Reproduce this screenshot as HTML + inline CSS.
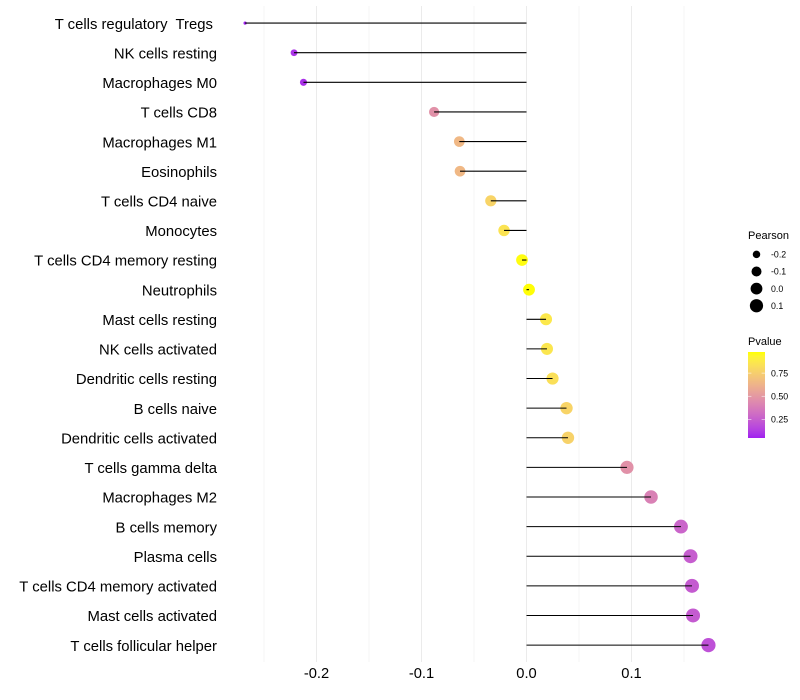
<!DOCTYPE html>
<html>
<head>
<meta charset="utf-8">
<title>Lollipop chart</title>
<style>
html,body{margin:0;padding:0;background:#fff;width:800px;height:700px;overflow:hidden}
svg{display:block}
text{font-family:"Liberation Sans",Arial,sans-serif;white-space:pre}
</style>
</head>
<body>
<svg id="chart" xmlns="http://www.w3.org/2000/svg" width="800" height="700" viewBox="0 0 800 700"></svg>
<script>
const categories = ["T cells regulatory  Tregs ","NK cells resting","Macrophages M0","T cells CD8","Macrophages M1","Eosinophils","T cells CD4 naive","Monocytes","T cells CD4 memory resting","Neutrophils","Mast cells resting","NK cells activated","Dendritic cells resting","B cells naive","Dendritic cells activated","T cells gamma delta","Macrophages M2","B cells memory","Plasma cells","T cells CD4 memory activated","Mast cells activated","T cells follicular helper"];
const pearson = [-0.268,-0.2214,-0.2124,-0.088,-0.064,-0.0633,-0.034,-0.0214,-0.0043,0.0024,0.0186,0.0195,0.0248,0.0381,0.0395,0.0957,0.1186,0.1471,0.1562,0.1576,0.1586,0.1733];
const pvalue = [0.05,0.1,0.09,0.47,0.65,0.65,0.78,0.85,0.97,0.975,0.87,0.86,0.83,0.78,0.77,0.47,0.40,0.28,0.25,0.24,0.24,0.2];
const xTicks = [-0.2,-0.1,0,0.1];
const xTickLabels = ["-0.2","-0.1","0.0","0.1"];
const xMinorTicks = [-0.25,-0.15,-0.05,0.05,0.15];
const sizeLegendValues = [-0.2,-0.1,0,0.1];
const sizeLegendLabels = ["-0.2","-0.1","0.0","0.1"];
const colorLegendValues = [0.25,0.5,0.75];
const colorLegendLabels = ["0.25","0.50","0.75"];

const svg = document.getElementById('chart');
const NS = 'http://www.w3.org/2000/svg';
function mk(tag, attrs, parent){
  const e = document.createElementNS(NS, tag);
  for (const k in attrs) e.setAttribute(k, attrs[k]);
  (parent || svg).appendChild(e);
  return e;
}
/* axis functions */
const xScale = v => 526.5 + v * 1050;
const yScale = i => 23.08 + i * (645.1 - 23.08) / (categories.length - 1);
const sizeMin = Math.min(...pearson), sizeMax = Math.max(...pearson);
const radius = v => (3.2 + 11 * Math.sqrt(Math.max(0, (v - sizeMin) / (sizeMax - sizeMin)))) / 2;

/* colour scale: Lab interpolation between purple and yellow */
const pLow = 0.05, pHigh = 0.978;
function toLab(r,g,b){
  const f = c => { c/=255; return c<=0.04045 ? c/12.92 : Math.pow((c+0.055)/1.055,2.4); };
  const R=f(r),G=f(g),B=f(b);
  const X=(0.4124*R+0.3576*G+0.1805*B)/0.95047, Y=0.2126*R+0.7152*G+0.0722*B, Z=(0.0193*R+0.1192*G+0.9505*B)/1.08883;
  const h = t => t>0.008856 ? Math.cbrt(t) : 7.787*t+16/116;
  return [116*h(Y)-16, 500*(h(X)-h(Y)), 200*(h(Y)-h(Z))];
}
function fromLab(L,a,b){
  const fy=(L+16)/116, fx=fy+a/500, fz=fy-b/200;
  const h = t => t*t*t>0.008856 ? t*t*t : (t-16/116)/7.787;
  const X=h(fx)*0.95047, Y=h(fy), Z=h(fz)*1.08883;
  const g = c => { c = c<=0.0031308 ? 12.92*c : 1.055*Math.pow(c,1/2.4)-0.055; return Math.round(255*Math.min(1,Math.max(0,c))); };
  return 'rgb('+g(3.2406*X-1.5372*Y-0.4986*Z)+','+g(-0.9689*X+1.8758*Y+0.0415*Z)+','+g(0.0557*X-0.204*Y+1.057*Z)+')';
}
const labLow = toLab(160,32,240), labHigh = toLab(255,255,0);
function colorScale(p){
  const t = Math.max(0, Math.min(1, (p - pLow) / (pHigh - pLow)));
  return fromLab(labLow[0]+(labHigh[0]-labLow[0])*t, labLow[1]+(labHigh[1]-labLow[1])*t, labLow[2]+(labHigh[2]-labLow[2])*t);
}

/* gridlines */
const panelTop = 6, panelBottom = 662;
xMinorTicks.forEach(v => {
  const g = mk('line', {x1:xScale(v), x2:xScale(v), y1:panelTop, y2:panelBottom, stroke:'#f0f0f0', 'stroke-width':0.6});
  
  
});
xTicks.forEach(v => {
  const g = mk('line', {x1:xScale(v), x2:xScale(v), y1:panelTop, y2:panelBottom, stroke:'#ebebeb', 'stroke-width':1});
  
  
});

/* points then segments */
categories.forEach((c, i) => {
  const pt = mk('circle', {cx:xScale(pearson[i]), cy:yScale(i), r:radius(pearson[i]), fill:colorScale(pvalue[i])});
  
  
});
categories.forEach((c, i) => {
  const ln = mk('line', {x1:xScale(0), x2:xScale(pearson[i]), y1:yScale(i), y2:yScale(i), stroke:'#000', 'stroke-width':1.07});
  
  
});

/* y labels */
categories.forEach((c, i) => {
  const t = mk('text', {x:217, y:yScale(i)+5.7, 'text-anchor':'end', 'font-size':14.85, fill:'#000'});
  t.setAttribute('xml:space', 'preserve');
  t.textContent = c;
  
  
});
/* x labels */
xTicks.forEach((v, i) => {
  const t = mk('text', {x:xScale(v), y:678, 'text-anchor':'middle', 'font-size':14.7, fill:'#000'});
  t.textContent = xTickLabels[i];
  
  
});

/* size legend */
const sizeTitle = mk('text', {x:748, y:239, 'font-size':11, fill:'#000'});
sizeTitle.textContent = 'Pearson';


const legendRowY = i => 254.4 + i * 17.1;
sizeLegendValues.forEach((v, i) => {
  const k = mk('circle', {cx:756.5, cy:legendRowY(i), r:radius(v), fill:'#000'});
  
  
  const t = mk('text', {x:771, y:legendRowY(i)+3.2, 'font-size':8.8, fill:'#000'});
  t.textContent = sizeLegendLabels[i];
  
  
});

/* colour legend */
const colorTitle = mk('text', {x:748, y:345, 'font-size':11, fill:'#000'});
colorTitle.textContent = 'Pvalue';


const defs = mk('defs', {});
const grad = mk('linearGradient', {id:'pv', x1:0, x2:0, y1:1, y2:0}, defs);
for (let s = 0; s <= 20; s++) {
  mk('stop', {offset:s/20, 'stop-color':colorScale(pLow + (pHigh - pLow) * s / 20)}, grad);
}
const barTop = 352, barBottom = 438, barLeft = 748, barRight = 765;
const bar = mk('rect', {x:barLeft, y:barTop, width:barRight-barLeft, height:barBottom-barTop, fill:'url(#pv)'});


const legY = p => barBottom - (p - pLow) / (pHigh - pLow) * (barBottom - barTop);
colorLegendValues.forEach((v, i) => {
  const y = legY(v);
  [[barLeft, barLeft+3.4],[barRight-3.4, barRight]].forEach(p => {
    const tk = mk('line', {x1:p[0], x2:p[1], y1:y, y2:y, stroke:'#fff', 'stroke-opacity':0.75, 'stroke-width':0.7});
    
    
  });
  const t = mk('text', {x:771, y:y+3.2, 'font-size':8.8, fill:'#000'});
  t.textContent = colorLegendLabels[i];
  
  
});
</script>
</body>
</html>
